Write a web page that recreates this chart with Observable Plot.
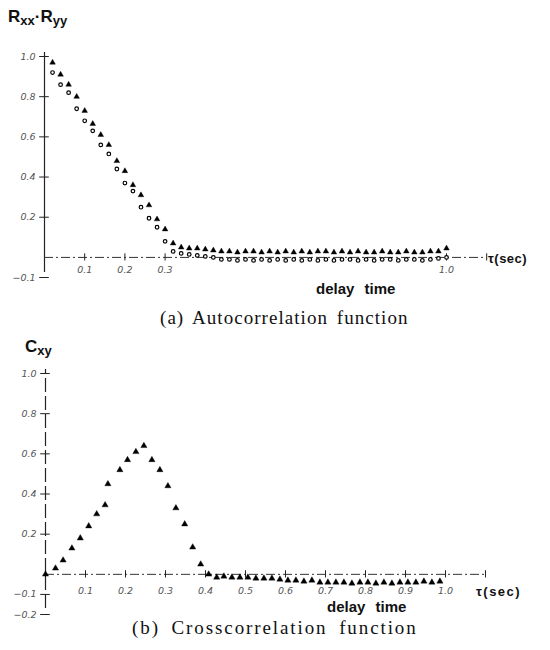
<!DOCTYPE html>
<html>
<head>
<meta charset="utf-8">
<script src="https://cdn.jsdelivr.net/npm/d3@7"></script>
<script src="https://cdn.jsdelivr.net/npm/@observablehq/plot@0.6"></script>
<style>
  html, body { margin: 0; padding: 0; background: #fff; }
  #page { position: relative; width: 550px; height: 650px; overflow: hidden; font-family: "Liberation Sans", Arial, sans-serif; color: #111; }
  .abs { position: absolute; white-space: nowrap; }
  .ylab { font-weight: bold; font-size: 17px; }
  .ylab .s { font-size: 13px; position: relative; top: 3px; }
  .unit { font-weight: bold; font-size: 13px; letter-spacing: 0.5px; }
  .xlab { font-weight: bold; font-size: 15px; word-spacing: 6px; }
  .cap { font-family: "Liberation Serif", "DejaVu Serif", serif; font-size: 19px; word-spacing: 3px; }
  svg { position: absolute; left: 0; }
</style>
</head>
<body>
<div id="page">
  <div class="abs ylab" style="left:8px; top:7px;">R<span class="s">xx</span>·R<span class="s">yy</span></div>
  <div class="abs unit" style="left:488px; top:251px;">τ(sec)</div>
  <div class="abs xlab" style="left:316px; top:280px;">delay time</div>
  <div class="abs cap" style="left:160px; top:307px; letter-spacing:1.05px;">(a) Autocorrelation function</div>

  <div class="abs ylab" style="left:25px; top:337px;">C<span class="s">xy</span></div>
  <div class="abs unit" style="left:476px; top:584px; letter-spacing:1.5px;">τ(sec)</div>
  <div class="abs xlab" style="left:327px; top:598px;">delay time</div>
  <div class="abs cap" style="left:132px; top:617px; letter-spacing:1.9px; word-spacing:5px;">(b) Crosscorrelation function</div>
</div>
<script>
// ---------- data: (a) autocorrelation ----------
const tauA = [0.02,0.04,0.06,0.08,0.10,0.12,0.14,0.16,0.18,0.20,0.22,0.24,0.26,0.28,0.30,0.32,
  0.34,0.36,0.38,0.40,0.42,0.44,0.46,0.48,0.50,0.52,0.54,0.56,0.58,0.60,0.62,0.64,0.66,0.68,
  0.70,0.72,0.74,0.76,0.78,0.80,0.82,0.84,0.86,0.88,0.90,0.92,0.94,0.96,0.98,1.00];
// triangles
const ryy = [0.97,0.91,0.86,0.80,0.73,0.665,0.61,0.56,0.48,0.43,0.36,0.31,0.26,0.19,0.14,0.07,
  0.05,0.045,0.045,0.04,0.035,0.03,0.03,0.025,0.03,0.03,0.025,0.03,0.025,0.03,0.025,0.03,0.025,0.03,
  0.03,0.025,0.03,0.025,0.03,0.025,0.025,0.03,0.025,0.025,0.03,0.025,0.025,0.03,0.03,0.045];
// circles
const rxx = [0.92,0.86,0.82,0.74,0.68,0.63,0.56,0.515,0.44,0.37,0.33,0.25,0.195,0.15,0.08,0.03,
  0.02,0.015,0.01,0.005,0.0,-0.01,-0.01,-0.015,-0.01,-0.015,-0.01,-0.015,-0.01,-0.015,-0.01,-0.015,-0.01,-0.015,
  -0.01,-0.015,-0.01,-0.01,-0.015,-0.01,-0.015,-0.01,-0.01,-0.015,-0.01,-0.01,-0.015,-0.01,-0.005,0.0];

// ---------- data: (b) crosscorrelation ----------
const tauB = [0.0,0.025,0.044,0.066,0.087,0.108,0.128,0.149,0.156,0.186,0.205,0.226,0.246,0.266,0.286,
  0.306,0.326,0.348,0.368,0.388,0.408,0.428,0.446,0.466,0.486,0.506,0.526,0.546,0.566,0.586,0.606,
  0.626,0.646,0.666,0.686,0.706,0.726,0.746,0.766,0.786,0.806,0.826,0.846,0.866,0.886,0.906,0.926,0.946,0.966,0.986];
const cxy = [0.0,0.03,0.07,0.13,0.18,0.24,0.30,0.345,0.45,0.52,0.57,0.61,0.64,0.57,0.52,
  0.44,0.33,0.25,0.135,0.05,0.0,-0.015,-0.01,-0.015,-0.015,-0.015,-0.02,-0.02,-0.02,-0.025,-0.03,
  -0.03,-0.035,-0.03,-0.04,-0.04,-0.04,-0.04,-0.045,-0.04,-0.04,-0.045,-0.04,-0.045,-0.04,-0.04,-0.04,-0.035,-0.04,-0.035];

// ---------- ticks ----------
const yTicksA = [1.0,0.8,0.6,0.4,0.2,-0.1];
const xTicksA = [0.1,0.2,0.3,1.0];
const yTicksB = [1.0,0.8,0.6,0.4,0.2,-0.1,-0.2];
const xTicksB = [0.1,0.2,0.3,0.4,0.5,0.6,0.7,0.8,0.9,1.0];
const xEnd = 1.1;

const fmt = d3.format(".1f");
const tickFont = {fontStyle: "italic", fontSize: 9.5, fill: "#555", fontFamily: "DejaVu Sans, sans-serif"};

function panel(opts) {
  const {yTicks, xTicks, series, yDomain, marginTop, marginBottom, marginLeft, top, yAxisDash, xLabDy, yAxisEnds} = opts;
  const marks = [
    Plot.ruleX([0], {y1: yAxisEnds[0], y2: yAxisEnds[1], stroke: "#222", strokeWidth: 1.2, strokeDasharray: yAxisDash}),
    Plot.ruleY([0], {x1: 0, x2: xEnd, stroke: "#333", strokeWidth: 1, strokeDasharray: "9,3,2,3"}),
    Plot.ruleY(yTicks, {y: d => d, x1: -0.012, x2: 0.012, stroke: "#222", strokeWidth: 1}),
    Plot.ruleX(xTicks.concat([xEnd]), {x: d => d, y1: -0.018, y2: 0.018, stroke: "#222", strokeWidth: 1}),
    Plot.text(yTicks, {x: 0, y: d => d, text: d => fmt(d), dx: -9, textAnchor: "end", ...tickFont}),
    Plot.text(xTicks, {x: d => d, y: 0, text: d => fmt(d), dy: xLabDy, textAnchor: "middle", ...tickFont})
  ];
  for (const s of series) {
    marks.push(Plot.dot(s.tau.map((t, i) => ({t, v: s.val[i]})), {
      x: "t", y: "v", symbol: s.symbol, r: s.r, fill: s.fill, stroke: "#000", strokeWidth: s.sw
    }));
  }
  const svg = Plot.plot({
    width: 550, height: 270,
    marginTop, marginBottom, marginLeft, marginRight: 550 - marginLeft - opts.xPx * xEnd,
    x: {domain: [0, xEnd], axis: null},
    y: {domain: yDomain, axis: null},
    style: {background: "transparent", overflow: "visible"},
    marks
  });
  svg.style.top = top + "px";
  document.getElementById("page").appendChild(svg);
}

panel({
  yTicks: yTicksA, xTicks: xTicksA, yDomain: [-0.1, 1.0], marginTop: 26, marginBottom: 23, marginLeft: 44, xPx: 402,
  top: 30, yAxisDash: null, xLabDy: 13, yAxisEnds: [-0.075, 1.02],
  series: [
    {tau: tauA, val: rxx, symbol: "circle", r: 1.8, fill: "#fff", sw: 1.2},
    {tau: tauA, val: ryy, symbol: "triangle", r: 2.1, fill: "#000", sw: 0.4}
  ]
});

panel({
  yTicks: yTicksB, xTicks: xTicksB, yDomain: [-0.2, 1.0], marginTop: 23, marginBottom: 6, marginLeft: 45, xPx: 400,
  top: 350, yAxisDash: "14,4", xLabDy: 17, yAxisEnds: [-0.17, 1.02],
  series: [
    {tau: tauB, val: cxy, symbol: "triangle", r: 2.3, fill: "#000", sw: 0.4}
  ]
});
</script>
</body>
</html>
